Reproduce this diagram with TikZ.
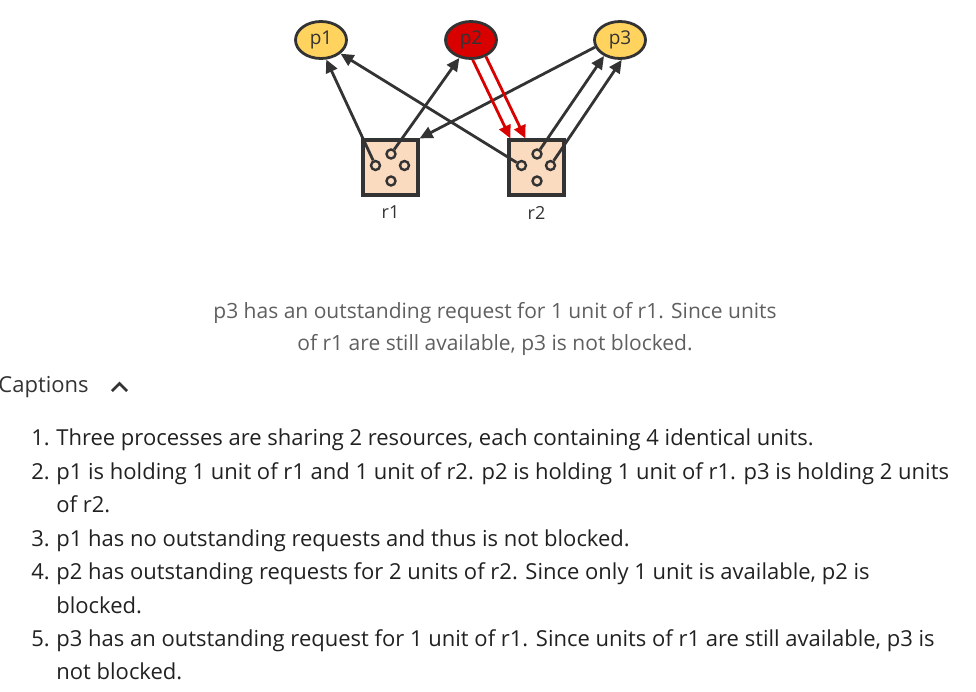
\documentclass[tikz,border=0pt]{standalone}
\usepackage{fontspec}
\setmainfont{Open Sans}
\usetikzlibrary{arrows.meta, positioning, shapes.geometric, calc}
\definecolor{cline}{HTML}{333333}
\definecolor{cproc}{HTML}{FFD35E}
\definecolor{cblock}{HTML}{D90000}
\definecolor{cres}{HTML}{FADBC0}
\definecolor{ccap}{HTML}{5F5F5F}
\definecolor{ctext}{HTML}{212121}
\tikzset{
  every picture/.style={line width=2.8pt},
  proc/.style={ellipse, draw=cline, fill=#1, line width=2.8pt, minimum width=51pt, minimum height=37pt, inner sep=0pt,
    text=cline, font=\fontsize{19}{19}\selectfont},
  proc/.default=cproc,
  res/.style={rectangle, draw=cline, fill=cres, line width=3.2pt, minimum size=55pt, inner sep=0pt},
  unit/.style={circle, draw=cline, fill=cres, line width=2.4pt, minimum size=9pt, inner sep=0pt},
  hold/.style={-{Triangle[length=13pt, width=12pt]}, draw=cline, line width=2.8pt},
  want/.style={-{Triangle[length=13pt, width=12pt]}, draw=cblock, line width=2.8pt},
  lbl/.style={text=cline, font=\fontsize{18}{18}\selectfont, inner sep=0pt},
  capt/.style={text=ccap, font=\fontsize{21}{21}\selectfont, inner sep=0pt, anchor=base},
  item/.style={text=ctext, font=\fontsize{22}{22}\selectfont, inner sep=0pt, anchor=base west},
}

\begin{document}
\begin{tikzpicture}[x=1pt, y=-1pt]
  \useasboundingbox (0,0) rectangle (976,691);
  % processes
  \node[proc] (p1) at (321,40) {p1};
  \node[proc=cblock] (p2) at (471,40) {p2};
  \node[proc] (p3) at (620,40) {p3};
  % resources and their units
  \foreach \r/\x in {r1/390.5, r2/536.5} {
    \node[res] (\r) at (\x,167.5) {};
    \node[lbl, below=8pt of \r] (\r lab) {\r};
    \node[unit] (\r L) at ($(\r)+(-15,-2)$) {};
    \node[unit] (\r T) at ($(\r)+(0.5,-13.5)$) {};
    \node[unit] (\r R) at ($(\r)+(14,-2)$) {};
    \node[unit] (\r B) at ($(\r)+(0.5,13.5)$) {};
  }
  % held units
  \draw[hold] (r1L) -- (p1.285);
  \draw[hold] (r1T) -- (p2.237);
  \draw[hold] (r2L) -- (p1.325);
  \draw[hold] (r2T) -- (p3.225);
  \draw[hold] (r2R) -- (p3.275);
  % requests
  \draw[hold] (p3.196) -- (r1.north east);
  \draw[want] (p2.275) -- ([xshift=3pt]r2.north west);
  \draw[want] (p2.312) -- ([xshift=18pt]r2.north west);
  % caption of the step
  \node[capt] (cap1) at (495,318) {p3 has an outstanding request for 1 unit of r1. Since units};
  \node[capt] (cap2) at (495,350) {of r1 are still available, p3 is not blocked.};
  \node[item, text=cline] (capts) at (-3,392) {Captions};
  \draw[cline, line width=2.6pt] (112,391) -- (119.5,383.5) -- (127,391);
  % list of steps
  \foreach \n/\y/\t in {1./445/{Three processes are sharing 2 resources, each containing 4 identical units.},
      2./479/{p1 is holding 1 unit of r1 and 1 unit of r2. p2 is holding 1 unit of r1. p3 is holding 2 units},
      /512/{of r2.},
      3./546/{p1 has no outstanding requests and thus is not blocked.},
      4./579/{p2 has outstanding requests for 2 units of r2. Since only 1 unit is available, p2 is},
      /613/{blocked.},
      5./646/{p3 has an outstanding request for 1 unit of r1. Since units of r1 are still available, p3 is},
      /679/{not blocked.}} {
    \node[item] (num\y) at (30,\y) {\n};
    \node[item] (line\y) at (55,\y) {\t};
  }
\end{tikzpicture}
\end{document}
